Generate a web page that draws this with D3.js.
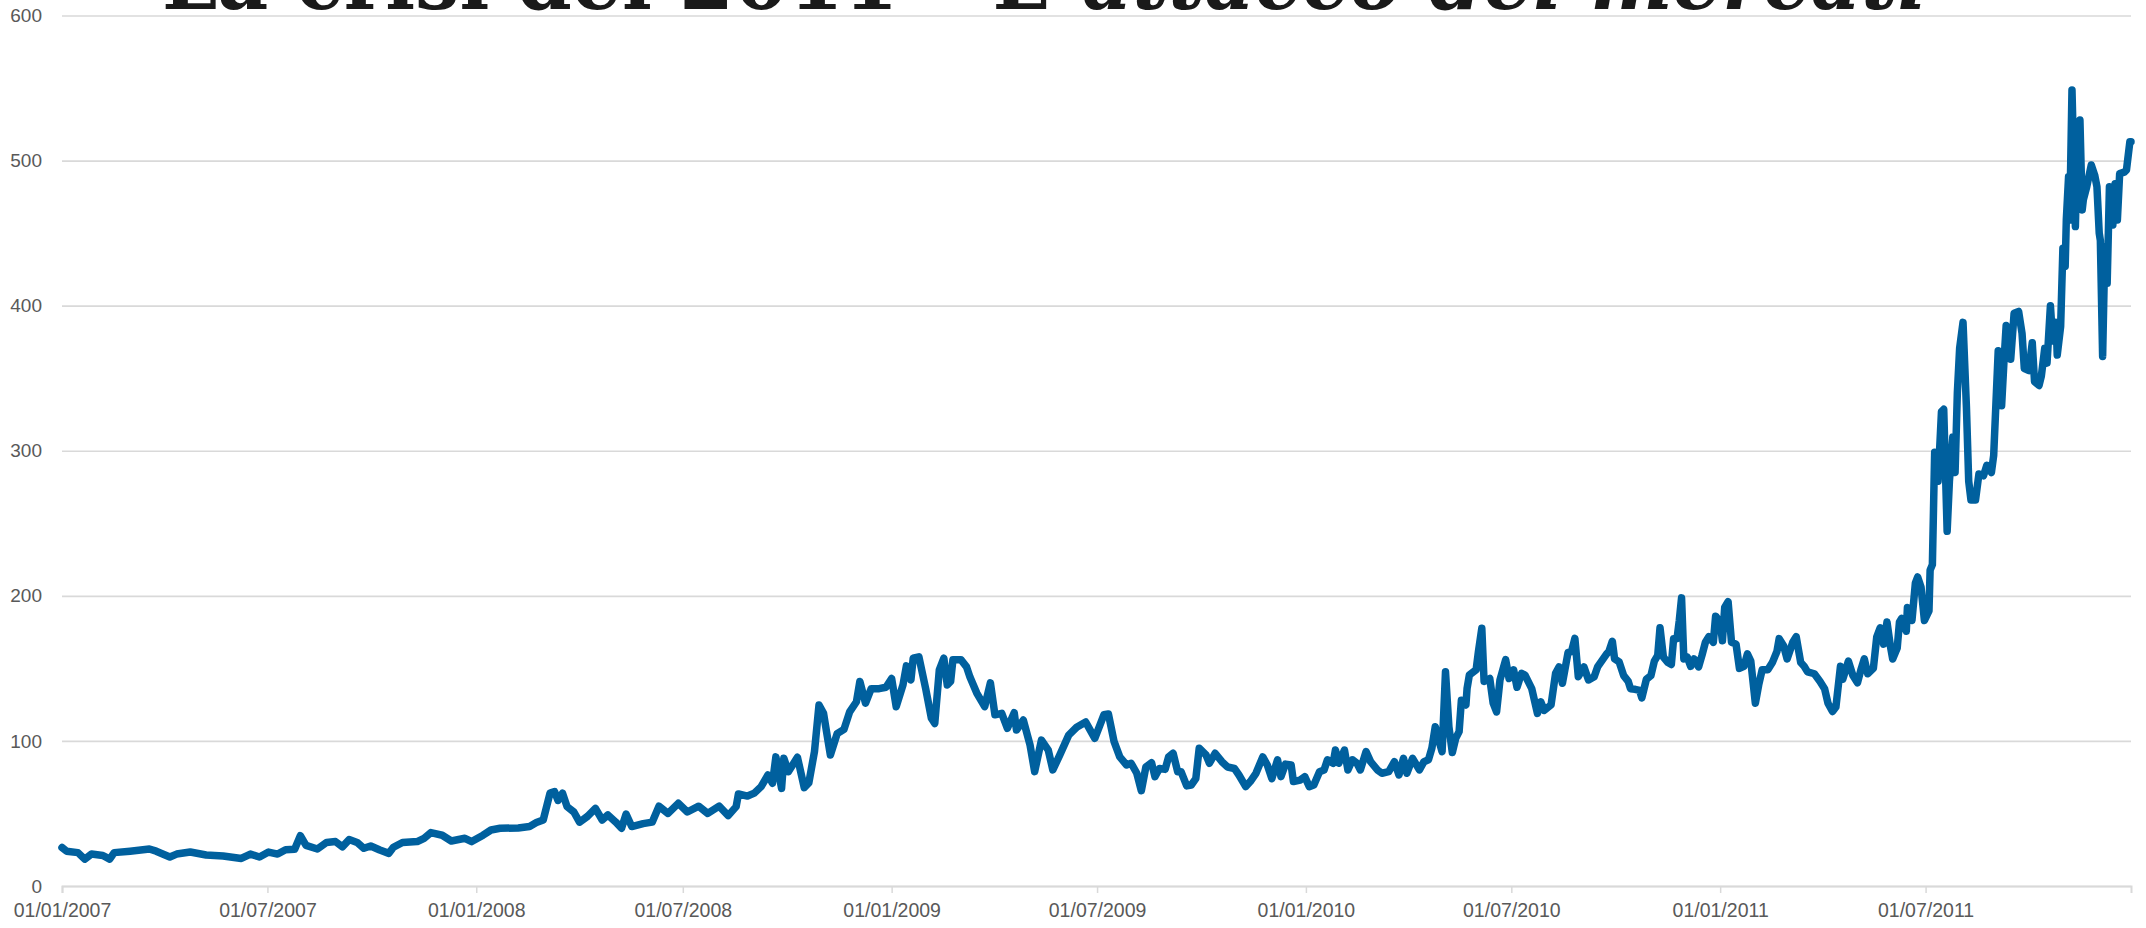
<!DOCTYPE html>
<html>
<head>
<meta charset="utf-8">
<script src="https://cdn.jsdelivr.net/npm/d3@7"></script>
<style>
  html, body { margin: 0; padding: 0; background: #fff; }
  svg { display: block; }
</style>
</head>
<body>
<div id="chart"><svg></svg></div>
<script>
// spread BTP-Bund (bps)
const dates2007 = ["2007-01-01","2007-01-05","2007-01-15","2007-01-21","2007-01-27","2007-02-06","2007-02-12","2007-02-16","2007-03-02","2007-03-19","2007-03-25","2007-04-06","2007-04-12","2007-04-24","2007-05-08","2007-05-23","2007-06-08","2007-06-16","2007-06-24","2007-07-02","2007-07-10","2007-07-17","2007-07-25","2007-07-30","2007-08-04","2007-08-14","2007-08-22","2007-08-30","2007-09-05","2007-09-11","2007-09-18","2007-09-24","2007-09-30","2007-10-08","2007-10-16","2007-10-20","2007-10-28","2007-11-10","2007-11-16","2007-11-22","2007-12-02","2007-12-10","2007-12-22","2007-12-28"];
const spread2007 = [26.5,24,23,18.5,22,21,18.5,23,24,25.5,24,20,22,23.4,21.4,20.7,19,22,20,23.4,22,25,25.3,34.7,28,25.5,30,30.6,27,32,30,26,27.6,24.8,22.5,26.7,30,30.6,32.9,36.8,35,31,32.9,30.6];

const dates2008 = ["2008-01-07","2008-01-14","2008-01-22","2008-02-07","2008-02-17","2008-02-23","2008-02-29","2008-03-06","2008-03-10","2008-03-13","2008-03-17","2008-03-21","2008-03-27","2008-04-01","2008-04-08","2008-04-15","2008-04-21","2008-04-26","2008-05-03","2008-05-08","2008-05-12","2008-05-17","2008-05-27","2008-06-04","2008-06-10","2008-06-18","2008-06-27","2008-07-05","2008-07-15","2008-07-23","2008-08-02","2008-08-10","2008-08-17","2008-08-19","2008-08-27","2008-09-02","2008-09-08","2008-09-14","2008-09-18","2008-09-21","2008-09-26","2008-09-28","2008-10-02","2008-10-10","2008-10-16","2008-10-20","2008-10-25","2008-10-29","2008-11-02","2008-11-08","2008-11-14","2008-11-20","2008-11-25","2008-12-01","2008-12-04","2008-12-09","2008-12-14","2008-12-21","2008-12-27"];
const spread2008 = [35,38.6,39.8,40,41,43.7,45.5,64,65,59,64,54.7,51,44,48,53.5,45.5,49,44,39.8,49.6,41,43,44,55,50,57,51,55,50,55,48.5,54.7,63.4,62,64,68.5,76.5,70.8,89,67.3,88,78.8,88.7,67.8,71,92.6,124.8,119,90.3,105,108,120,127,141,126,136,136,137];

const dates2009 = ["2009-01-01","2009-01-05","2009-01-11","2009-01-14","2009-01-18","2009-01-20","2009-01-25","2009-01-31","2009-02-05","2009-02-08","2009-02-12","2009-02-16","2009-02-19","2009-02-22","2009-02-24","2009-03-03","2009-03-08","2009-03-11","2009-03-17","2009-03-24","2009-03-29","2009-04-02","2009-04-08","2009-04-13","2009-04-19","2009-04-21","2009-04-27","2009-05-03","2009-05-07","2009-05-13","2009-05-19","2009-05-23","2009-05-29","2009-06-06","2009-06-13","2009-06-21","2009-06-29","2009-07-07","2009-07-11","2009-07-16","2009-07-21","2009-07-27","2009-07-31","2009-08-05","2009-08-09","2009-08-13","2009-08-18","2009-08-21","2009-08-25","2009-08-30","2009-09-02","2009-09-06","2009-09-10","2009-09-13","2009-09-18","2009-09-22","2009-09-26","2009-09-29","2009-10-05","2009-10-08","2009-10-13","2009-10-19","2009-10-24","2009-10-30","2009-11-03","2009-11-09","2009-11-13","2009-11-18","2009-11-24","2009-11-28","2009-12-02","2009-12-07","2009-12-10","2009-12-14","2009-12-19","2009-12-21","2009-12-27","2009-12-31"];
const spread2009 = [143,123.6,138.6,151.7,142,157,158,136,115.6,112,149,157,138.6,141,156,156,151,144,133,123.6,140,118,119,108.7,119.5,107.5,114.4,97,78.8,100.6,93.7,80,90,104,109.4,113,101.8,118,118.6,99.5,89,83.4,84.6,77.7,65.7,82,85,75.4,81,80.4,89,91.5,78.8,78.8,69,69.6,74,95,90.3,84.6,91.5,85.7,82,81,76.5,68.5,72,77.7,89,83.4,74,87,75.4,84,83.4,72,73,75.4];

const dates2010 = ["2010-01-04","2010-01-08","2010-01-13","2010-01-17","2010-01-20","2010-01-25","2010-01-27","2010-01-30","2010-02-04","2010-02-07","2010-02-11","2010-02-15","2010-02-18","2010-02-23","2010-02-27","2010-03-05","2010-03-09","2010-03-15","2010-03-20","2010-03-24","2010-03-28","2010-03-31","2010-04-05","2010-04-11","2010-04-15","2010-04-19","2010-04-22","2010-04-25","2010-04-28","2010-05-01","2010-05-04","2010-05-07","2010-05-10","2010-05-13","2010-05-16","2010-05-18","2010-05-22","2010-05-23","2010-05-25","2010-05-31","2010-06-02","2010-06-05","2010-06-07","2010-06-12","2010-06-15","2010-06-18","2010-06-21","2010-06-26","2010-06-29","2010-07-03","2010-07-06","2010-07-10","2010-07-13","2010-07-19","2010-07-24","2010-07-27","2010-07-30","2010-08-05","2010-08-09","2010-08-12","2010-08-15","2010-08-20","2010-08-23","2010-08-26","2010-08-29","2010-09-03","2010-09-07","2010-09-12","2010-09-15","2010-09-23","2010-09-25","2010-09-28","2010-09-30","2010-10-04","2010-10-08","2010-10-12","2010-10-14","2010-10-18","2010-10-22","2010-10-24","2010-10-28","2010-11-01","2010-11-04","2010-11-07","2010-11-09","2010-11-12","2010-11-16","2010-11-19","2010-11-21","2010-11-24","2010-11-26","2010-11-28","2010-11-30","2010-12-03","2010-12-06","2010-12-09","2010-12-13","2010-12-16","2010-12-19","2010-12-22","2010-12-26","2010-12-28"];
const spread2010 = [68.5,69.6,78.8,80,87,84.6,93.7,84.6,93.7,80,87,84.6,80,92.6,85.7,80,77.7,78.8,85.7,76.5,88,77.7,88,80,85.7,87,95,109.8,100.6,92.6,147.7,109.8,92,101.8,106.4,128,124.8,136,145.4,149,161.5,177.6,141,143,126,120,142,156,143,149,137,146.6,145.4,136,119,127,121,124.8,146.6,151,139.7,161,161.5,170.7,144.3,151,142,144.3,151,160,161.6,168.7,156.5,154.5,145,141,136,135.6,134.8,129.7,142.5,145,155,159,178,157.8,154,152.7,170.5,170.5,183,198.6,156.5,157.8,151.4,156.5,151,159,168,171.8,168,186];

const dates2011 = ["2011-01-01","2011-01-03","2011-01-05","2011-01-08","2011-01-11","2011-01-15","2011-01-18","2011-01-22","2011-01-25","2011-01-28","2011-02-01","2011-02-04","2011-02-07","2011-02-12","2011-02-16","2011-02-20","2011-02-22","2011-02-26","2011-03-01","2011-03-06","2011-03-09","2011-03-13","2011-03-16","2011-03-19","2011-03-25","2011-03-30","2011-04-03","2011-04-06","2011-04-10","2011-04-13","2011-04-17","2011-04-19","2011-04-24","2011-04-28","2011-05-02","2011-05-05","2011-05-08","2011-05-11","2011-05-16","2011-05-19","2011-05-22","2011-05-25","2011-05-28","2011-05-31","2011-06-02","2011-06-06","2011-06-08","2011-06-10","2011-06-14","2011-06-15","2011-06-19","2011-06-22","2011-06-24","2011-06-27","2011-06-30","2011-07-04","2011-07-05","2011-07-07","2011-07-09","2011-07-12","2011-07-15","2011-07-17","2011-07-20","2011-07-22","2011-07-25","2011-07-27","2011-07-29","2011-07-31","2011-08-03","2011-08-06","2011-08-08","2011-08-10","2011-08-14","2011-08-17","2011-08-21","2011-08-24","2011-08-28","2011-08-30","2011-09-03","2011-09-06","2011-09-08","2011-09-10","2011-09-14","2011-09-17","2011-09-21","2011-09-24","2011-09-26","2011-09-30","2011-10-03","2011-10-05","2011-10-09","2011-10-11","2011-10-14","2011-10-16","2011-10-19","2011-10-21","2011-10-24","2011-10-25","2011-10-28","2011-10-30","2011-11-01","2011-11-02","2011-11-04","2011-11-05","2011-11-07","2011-11-10","2011-11-11","2011-11-14","2011-11-16","2011-11-17","2011-11-20","2011-11-24","2011-11-27","2011-11-29","2011-12-01","2011-12-02","2011-12-04","2011-12-06","2011-12-08","2011-12-10","2011-12-13","2011-12-15","2011-12-17","2011-12-19","2011-12-23","2011-12-25","2011-12-28","2011-12-29"];
const spread2011 = [182,169,192,196,168,166.7,150,151.4,160,155,126,138.7,149,149,154,161.6,170.5,165.4,156.5,168,171.8,154,151.4,147.6,146.3,141,136,126,120.3,123.4,151.4,142.5,155,145,140,149,156.5,146.3,150,171.8,178,166.7,182,165.4,156.5,164,182,184.5,175.6,192,183,208.8,213,206,183,189.6,217.7,221.5,299,279,327,328.6,244.5,279,309.5,285,340,370.6,388.5,330,279,266,266,284,282.7,290,285,296.7,369,331,360.4,386.4,363,394.8,396,380.8,356.6,355.3,374.5,347.7,345,351.5,370.6,360.4,400,375.7,388.5,366,385.6,439.6,427,459,489,459,548.7,454.5,489,528,466,473,482,497,490,482,450,445,365,440.7,415.4,482,455.6,484,459,491,492,493.5,513,513];

const yTicks = [0, 100, 200, 300, 400, 500, 600];
const xTicks = ["2007-01-01","2007-07-01","2008-01-01","2008-07-01","2009-01-01","2009-07-01","2010-01-01","2010-07-01","2011-01-01","2011-07-01"];
const titleRoman = "La crisi del 2011 – L'";
const titleItalic = "attacco dei mercati";

const width = 2146, height = 928;
const margin = ({top: 15.5, right: 15, bottom: 42, left: 62});
const parse = d3.timeParse("%Y-%m-%d");
const fmt = d3.timeFormat("%d/%m/%Y");

const data = [];
[[dates2007, spread2007], [dates2008, spread2008], [dates2009, spread2009], [dates2010, spread2010], [dates2011, spread2011]]
  .forEach(([ds, vs]) => ds.forEach((d, i) => data.push({date: parse(d), value: vs[i]})));

const x = d3.scaleTime([parse("2007-01-01"), parse("2011-12-29")], [margin.left, width - margin.right]);
const y = d3.scaleLinear([0, 600], [height - margin.bottom, margin.top]);

const svg = d3.select('#chart').select('svg')
  .attr('width', width)
  .attr('height', height);

svg.append('rect').attr('width', width).attr('height', height).attr('fill', '#fff');

// gridlines
svg.append('g')
  .attr('transform', `translate(${margin.left},0)`)
  .call(d3.axisLeft(y).tickValues(yTicks).tickSize(-(width - margin.left - margin.right)).tickFormat(''))
  .call(g => g.select('.domain').remove())
  .call(g => g.selectAll('line').attr('stroke', '#d9d9d9').attr('stroke-width', 1.7));

// y labels
svg.append('g')
  .selectAll('text')
  .data(yTicks)
  .join('text')
  .attr('x', 42)
  .attr('y', d => y(d))
  .attr('dy', '0.35em')
  .attr('text-anchor', 'end')
  .attr('fill', '#595959')
  .style('font-family', '"Liberation Sans", Arial, sans-serif')
  .style('font-size', '19px')
  .text(d => d);

// x axis
svg.append('g')
  .attr('transform', `translate(0,${y(0)})`)
  .call(d3.axisBottom(x).tickValues(xTicks.map(parse)).tickSize(7).tickPadding(10).tickFormat(fmt))
  .call(g => g.select('.domain').attr('stroke', '#d9d9d9').attr('stroke-width', 2))
  .call(g => g.selectAll('.tick line').attr('stroke', '#d9d9d9').attr('stroke-width', 1.5))
  .call(g => g.selectAll('.tick text')
    .attr('fill', '#595959')
    .style('font-family', '"Liberation Sans", Arial, sans-serif')
    .style('font-size', '19.5px'));

// the line
const line = d3.line()
  .x(d => x(d.date))
  .y(d => y(d.value));

svg.append('path')
  .datum(data)
  .attr('fill', 'none')
  .attr('stroke', '#00609e')
  .attr('stroke-width', 7.5)
  .attr('stroke-linejoin', 'round')
  .attr('stroke-linecap', 'round')
  .attr('d', line);

// title, cut off by the top edge
const t = svg.append('g')
  .attr('fill', '#1a1a1a')
  .style('font-family', '"DejaVu Serif", serif')
  .style('font-weight', 'bold')
  .style('font-size', '84px');
t.append('text')
  .attr('x', 162).attr('y', 9)
  .attr('textLength', 910).attr('lengthAdjust', 'spacingAndGlyphs')
  .text(titleRoman);
t.append('text')
  .attr('x', 1082).attr('y', 9)
  .attr('textLength', 845).attr('lengthAdjust', 'spacingAndGlyphs')
  .style('font-style', 'italic')
  .text(titleItalic);
</script>
</body>
</html>
